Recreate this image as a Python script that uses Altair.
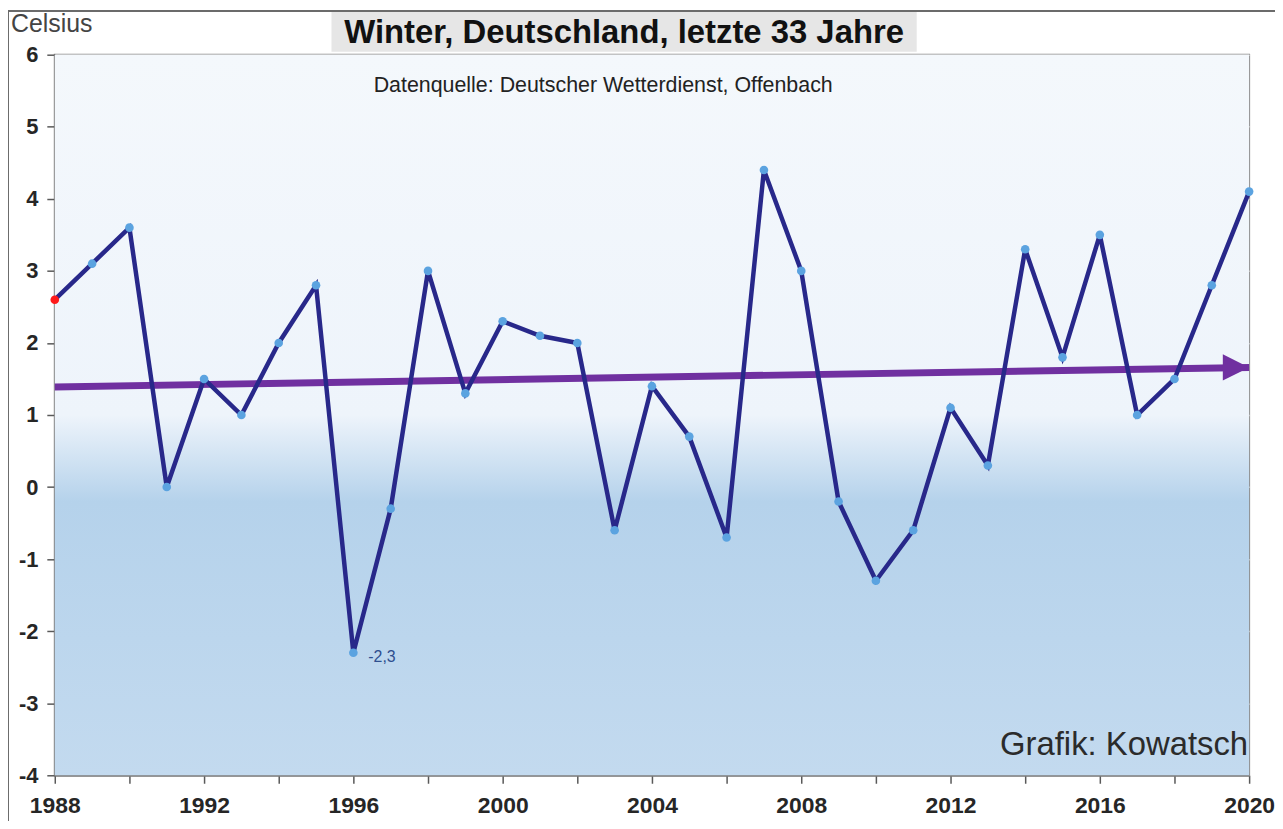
import altair as alt
import pandas as pd

# ---- data ----
years = list(range(1988, 2021))
temps = [2.6, 3.1, 3.6, 0.0, 1.5, 1.0, 2.0, 2.8, -2.3, -0.3, 3.0, 1.3, 2.3, 2.1,
         2.0, -0.6, 1.4, 0.7, -0.7, 4.4, 3.0, -0.2, -1.3, -0.6, 1.1, 0.3, 3.3,
         1.8, 3.5, 1.0, 1.5, 2.8, 4.1]
point_colors = ["#ff1a1a"] + ["#5ba3e0"] * (len(years) - 1)
trend_years = [1988, 2020]
trend_vals = [1.39, 1.66]
label_year = [1996]
label_val = [-2.3]
label_txt = ["-2,3"]
x_ticks = list(range(1988, 2021, 2))
y_ticks = list(range(-4, 7))

W, H = 1200, 724

df = pd.DataFrame({"year": years, "temp": temps, "c": point_colors})
trend = pd.DataFrame({"year": trend_years, "temp": trend_vals})
tip = trend.tail(1)
lab = pd.DataFrame({"year": label_year, "temp": label_val, "t": label_txt})
one = pd.DataFrame({"a": [0]})

xs = alt.Scale(domain=[1988, 2020], nice=False, zero=False)
ys = alt.Scale(domain=[-4, 6], nice=False, zero=False)

x_axis = alt.Axis(values=x_ticks, title=None,
                  labelExpr="datum.value % 4 == 0 ? '' + datum.value : ''",
                  labelFont="Liberation Sans", labelFontWeight="bold", labelFontSize=23,
                  labelColor="#262626", labelPadding=11, tickSize=8, tickColor="#595959",
                  tickWidth=1.5, domainColor="#7f7f7f", domainWidth=2, grid=False,
                  labelOverlap=False, labelFlush=False)
y_axis = alt.Axis(values=y_ticks, title=None,
                  labelExpr="'' + datum.value",
                  labelFont="Liberation Sans", labelFontWeight="bold", labelFontSize=22,
                  labelColor="#262626", labelPadding=9, tickSize=8, tickColor="#595959",
                  tickWidth=1.5, domainColor="#7f7f7f", domainWidth=2, grid=True,
                  gridColor="#d6d6d6", gridWidth=1.5)

grad = alt.Gradient(
    gradient="linear",
    stops=[alt.GradientStop(offset=0, color="#f4f8fc"),
           alt.GradientStop(offset=0.5, color="#eef4fb"),
           alt.GradientStop(offset=0.62, color="#b5d2eb"),
           alt.GradientStop(offset=1, color="#c3daef")],
    x1=0, x2=0, y1=0, y2=1)

bg = alt.Chart(one).mark_rect(fill=grad).encode(
    x=alt.value(0), x2=alt.value(W), y=alt.value(0), y2=alt.value(H))

line = alt.Chart(df).mark_line(color="#28288a", strokeWidth=4.5).encode(
    x=alt.X("year:Q", scale=xs, axis=x_axis),
    y=alt.Y("temp:Q", scale=ys, axis=y_axis))

pts = alt.Chart(df).mark_point(filled=True, size=75, opacity=1).encode(
    x=alt.X("year:Q", scale=xs), y=alt.Y("temp:Q", scale=ys),
    color=alt.Color("c:N", scale=None))

trend_line = alt.Chart(trend).mark_line(color="#7030a0", strokeWidth=7).encode(
    x=alt.X("year:Q", scale=xs), y=alt.Y("temp:Q", scale=ys))

arrow = alt.Chart(tip).mark_point(
    filled=True, opacity=1, color="#7030a0", size=2800,
    shape="M -1 -0.5 L 0 0 L -1 0.5 Z").encode(
    x=alt.X("year:Q", scale=xs), y=alt.Y("temp:Q", scale=ys))

min_lab = alt.Chart(lab).mark_text(
    align="left", baseline="middle", dx=15, dy=4, fontSize=16,
    font="Liberation Sans", color="#2f4f8f").encode(
    x=alt.X("year:Q", scale=xs), y=alt.Y("temp:Q", scale=ys), text="t:N")

# decorations: outer frame, title box, texts
frame_top = alt.Chart(one).mark_rule(color="#6b6b6b", strokeWidth=2).encode(
    x=alt.value(-47), x2=alt.value(W + 30), y=alt.value(-44))
frame_left = alt.Chart(one).mark_rule(color="#6b6b6b", strokeWidth=2).encode(
    x=alt.value(-47), y=alt.value(-44), y2=alt.value(H + 60))
title_box = alt.Chart(one).mark_rect(fill="#e6e6e6").encode(
    x=alt.value(278), x2=alt.value(866), y=alt.value(-43), y2=alt.value(-3))
title = alt.Chart(one).mark_text(
    text="Winter, Deutschland, letzte 33 Jahre", font="Liberation Sans",
    fontWeight="bold", fontSize=33, color="#111111", align="center",
    baseline="alphabetic").encode(x=alt.value(572), y=alt.value(-12))
celsius = alt.Chart(one).mark_text(
    text="Celsius", font="Liberation Sans", fontSize=25, color="#444444",
    align="left", baseline="alphabetic").encode(x=alt.value(-44), y=alt.value(-23))
source = alt.Chart(one).mark_text(
    text="Datenquelle: Deutscher Wetterdienst, Offenbach",
    font="Liberation Sans Narrow, Liberation Sans", fontSize=21.5, color="#222222",
    align="center", baseline="alphabetic").encode(x=alt.value(551), y=alt.value(37))
credit = alt.Chart(one).mark_text(
    text="Grafik: Kowatsch", font="Liberation Sans", fontSize=33, color="#2b2b2b",
    align="right", baseline="alphabetic").encode(x=alt.value(W - 1), y=alt.value(704))

chart = alt.layer(
    bg, trend_line, arrow, line, pts, min_lab,
    frame_top, frame_left, title_box, title, celsius, source, credit
).properties(
    width=W, height=H,
    autosize=alt.AutoSizeParams(type="none"),
    padding={"left": 47, "top": 45, "right": 26, "bottom": 44},
    background="white"
).configure_view(stroke="#8c8c8c", strokeWidth=2)

chart.save("out.html", embed_options={"renderer": "svg", "actions": False})
